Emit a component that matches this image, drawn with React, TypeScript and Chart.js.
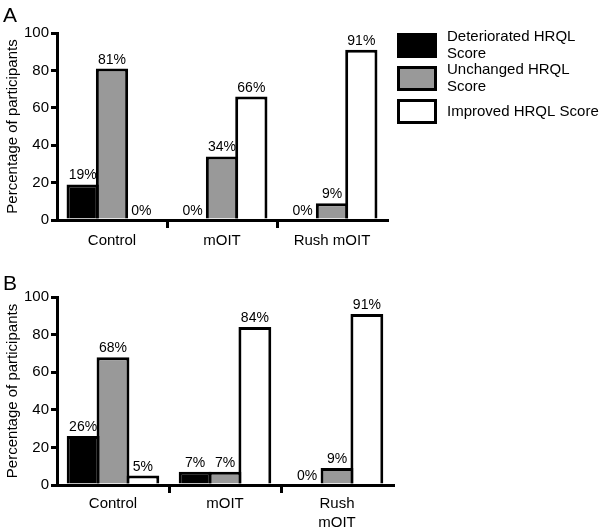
import React, { useEffect, useRef } from "react";
import { Chart, registerables } from "chart.js";

Chart.register(...registerables);

const FONT = "'Liberation Sans', Arial, Helvetica, sans-serif";
Chart.defaults.font.family = FONT;
Chart.defaults.color = "#000";

// ---------- data ----------
const seriesLabels = ["Deteriorated HRQL Score", "Unchanged HRQL Score", "Improved HRQL Score"];
const seriesColors = ["#000000", "#999999", "#ffffff"];

const categoriesA = ["Control", "mOIT", "Rush mOIT"];
const deterioratedA = [19, 0, 0];
const unchangedA = [81, 34, 9];
const improvedA = [0, 66, 91];

const categoriesB = ["Control", "mOIT", ["Rush", "mOIT"]];
const deterioratedB = [26, 7, 0];
const unchangedB = [68, 7, 9];
const improvedB = [5, 84, 91];

const yTicks = [0, 20, 40, 60, 80, 100];
const yTitle = "Percentage of participants";
const panelLetters = ["A", "B"];

// ---------- plugins ----------
const valueLabelPlugin = {
  id: "valueLabels",
  afterDatasetsDraw(chart: any) {
    const ctx = chart.ctx;
    ctx.save();
    ctx.font = `14px ${FONT}`;
    ctx.fillStyle = "#000";
    ctx.textAlign = "center";
    ctx.textBaseline = "alphabetic";
    chart.data.datasets.forEach((ds: any, i: number) => {
      const meta = chart.getDatasetMeta(i);
      meta.data.forEach((el: any, j: number) => {
        const v = ds.data[j];
        const top = Math.min(el.y, el.base);
        ctx.fillText(`${v}%`, el.x, top - 5);
      });
    });
    ctx.restore();
  },
};

const panelLetterPlugin = {
  id: "panelLetter",
  afterDraw(chart: any, _args: any, opts: any) {
    if (!opts || !opts.text) return;
    const ctx = chart.ctx;
    ctx.save();
    ctx.font = `21px ${FONT}`;
    ctx.fillStyle = "#000";
    ctx.textAlign = "left";
    ctx.textBaseline = "alphabetic";
    ctx.fillText(opts.text, 3, opts.baseline);
    ctx.restore();
  },
};

function wrapText(ctx: CanvasRenderingContext2D, text: string, maxWidth: number): string[] {
  const words = text.split(" ");
  const lines: string[] = [];
  let cur = "";
  for (const w of words) {
    const test = cur ? cur + " " + w : w;
    if (cur && ctx.measureText(test).width > maxWidth) {
      lines.push(cur);
      cur = w;
    } else {
      cur = test;
    }
  }
  if (cur) lines.push(cur);
  return lines;
}

const sideLegendPlugin = {
  id: "sideLegend",
  afterDraw(chart: any, _args: any, opts: any) {
    if (!opts || !opts.display) return;
    const ctx = chart.ctx;
    const area = chart.chartArea;
    const boxLeft = area.right + 10;
    const boxW = 40;
    const boxH = 25;
    const step = 33;
    const textX = boxLeft + boxW + 10;
    const maxW = chart.width - textX + 2;
    const lineH = 16.5;
    ctx.save();
    ctx.font = `15px ${FONT}`;
    chart.data.datasets.forEach((ds: any, i: number) => {
      const top = area.top + i * step;
      ctx.fillStyle = ds.backgroundColor;
      ctx.fillRect(boxLeft, top, boxW, boxH);
      ctx.lineWidth = 3;
      ctx.strokeStyle = "#000";
      ctx.strokeRect(boxLeft + 1.5, top + 1.5, boxW - 3, boxH - 3);
      const lines = wrapText(ctx, ds.label, maxW);
      const cy = top + boxH / 2;
      const startY = cy - ((lines.length - 1) * lineH) / 2;
      ctx.fillStyle = "#000";
      ctx.textAlign = "left";
      ctx.textBaseline = "middle";
      lines.forEach((ln, k) => ctx.fillText(ln, textX, startY + k * lineH));
    });
    ctx.restore();
  },
};

// ---------- panel ----------
type PanelProps = {
  letter: string;
  categories: any[];
  series: number[][];
  width: number;
  height: number;
  padTop: number;
  padRight: number;
  xAxisHeight: number;
  xPadding: number;
  letterBaseline: number;
  showLegend: boolean;
};

function Panel(p: PanelProps) {
  const ref = useRef<HTMLCanvasElement | null>(null);
  useEffect(() => {
    if (!ref.current) return;
    const chart = new Chart(ref.current, {
      type: "bar",
      data: {
        labels: p.categories,
        datasets: p.series.map((vals, i) => ({
          label: seriesLabels[i],
          data: vals,
          backgroundColor: seriesColors[i],
          borderColor: "#000",
          borderWidth: 3,
          borderSkipped: "start",
          categoryPercentage: 0.8,
          barPercentage: 1.1,
        })),
      },
      options: {
        responsive: false,
        animation: false,
        devicePixelRatio: 1,
        layout: { padding: { top: p.padTop, right: p.padRight, bottom: 0, left: 0 } },
        plugins: {
          legend: { display: false },
          tooltip: { enabled: false },
          panelLetter: { text: p.letter, baseline: p.letterBaseline },
          sideLegend: { display: p.showLegend },
        } as any,
        scales: {
          x: {
            offset: true,
            grid: {
              display: true,
              offset: true,
              drawOnChartArea: false,
              drawTicks: true,
              tickLength: 8,
              lineWidth: 3,
              color: (c: any) => (c.type === "tick" && c.index > 0 ? "#000" : "rgba(0,0,0,0)"),
            },
            border: { display: true, color: "#000", width: 3 },
            ticks: {
              color: "#000",
              font: { family: FONT, size: 15, lineHeight: 1.3 },
              padding: p.xPadding,
              maxRotation: 0,
              minRotation: 0,
              autoSkip: false,
            },
            afterFit: (s: any) => {
              s.height = p.xAxisHeight;
            },
          },
          y: {
            min: 0,
            max: 100,
            afterBuildTicks: (s: any) => {
              s.ticks = yTicks.map((v) => ({ value: v }));
            },
            grid: {
              display: true,
              drawOnChartArea: false,
              drawTicks: true,
              tickLength: 6,
              lineWidth: 3,
              color: "#000",
            },
            border: { display: true, color: "#000", width: 3 },
            ticks: { color: "#000", font: { family: FONT, size: 15 }, padding: 2 },
            title: {
              display: true,
              text: yTitle,
              color: "#000",
              font: { family: FONT, size: 15 },
              padding: { top: 4, bottom: 4 },
            },
            afterFit: (s: any) => {
              s.width = 57;
            },
          },
        } as any,
      },
      plugins: [valueLabelPlugin, panelLetterPlugin, sideLegendPlugin],
    } as any);
    return () => chart.destroy();
  }, []);
  return (
    <canvas
      ref={ref}
      width={p.width}
      height={p.height}
      style={{ display: "block", width: p.width, height: p.height }}
    />
  );
}

export default function App() {
  return (
    <div style={{ position: "absolute", left: 0, top: 0, width: 600, height: 530, background: "#fff" }}>
      <Panel
        letter={panelLetters[0]}
        categories={categoriesA}
        series={[deterioratedA, unchangedA, improvedA]}
        width={600}
        height={260}
        padTop={33}
        padRight={213}
        xAxisHeight={40}
        xPadding={3}
        letterBaseline={22}
        showLegend={true}
      />
      <Panel
        letter={panelLetters[1]}
        categories={categoriesB}
        series={[deterioratedB, unchangedB, improvedB]}
        width={600}
        height={270}
        padTop={37}
        padRight={207}
        xAxisHeight={45}
        xPadding={1}
        letterBaseline={30}
        showLegend={false}
      />
    </div>
  );
}
